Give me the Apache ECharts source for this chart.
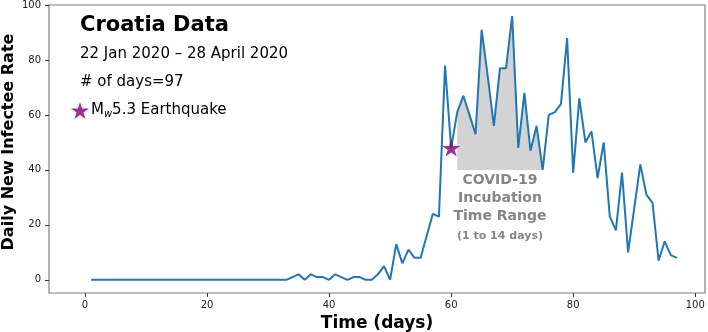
<!DOCTYPE html>
<html>
<head>
<meta charset="utf-8">
<script src="https://cdn.jsdelivr.net/npm/echarts@6/dist/echarts.min.js"></script>
<style>
html,body{margin:0;padding:0;background:#fff;}
#chart{width:708px;height:332px;}
</style>
</head>
<body>
<div id="chart"></div>
<script>
// Daily new infectee values for days 1..97
const values = [
  0,0,0,0,0,0,0,0,0,0,
  0,0,0,0,0,0,0,0,0,0,
  0,0,0,0,0,0,0,0,0,0,
  0,0,0,1,2,0,2,1,1,0,
  2,1,0,1,1,0,0,2,5,0,
  13,6,11,8,8,16,24,23,78,48,
  61,67,60,53,91,74,56,77,77,96,
  48,68,47,56,40,60,61,64,88,39,
  66,50,54,37,50,23,18,39,10,26,
  42,31,28,7,14,9,8
];
const firstDay = 1;
const incubationStart = 61;
const incubationEnd = 75;
const incubationBase = 40;
const quakeDay = 60;
const quakeValue = 48;
const xTicks = [0, 20, 40, 60, 80, 100];
const yTicks = [0, 20, 40, 60, 80, 100];
const titleText = 'Croatia Data';
const dateText = '22 Jan 2020 \u2013 28 April 2020';
const daysText = '# of days=97';
const yAxisTitle = 'Daily New Infectee Rate';
const xAxisTitle = 'Time (days)';
const incubationLines = ['COVID-19', 'Incubation', 'Time Range', '(1 to 14 days)'];

const lineData = values.map((v, i) => [firstDay + i, v]);
const fillData = lineData.filter(p => p[0] >= incubationStart && p[0] <= incubationEnd);

const FONT = 'DejaVu Sans';
const starPath = 'path://M0,-1L0.2245,-0.309L0.951,-0.309L0.363,0.118L0.588,0.809L0,0.382L-0.588,0.809L-0.363,0.118L-0.951,-0.309L-0.2245,-0.309Z';

const chart = echarts.init(document.getElementById('chart'), null, {renderer: 'canvas'});
chart.setOption({
  animation: false,
  backgroundColor: '#fff',
  textStyle: {fontFamily: FONT},
  grid: {left: 49, right: 3, top: 5, bottom: 39, show: true, borderColor: '#808080', borderWidth: 1.2,
         backgroundColor: 'transparent', containLabel: false, outerBoundsMode: 'none'},
  xAxis: {
    type: 'value', min: -5.9, max: 101.6,
    axisLine: {show: false, onZero: false},
    splitLine: {show: false},
    axisTick: {show: true, length: 4, lineStyle: {color: '#333'}, customValues: xTicks},
    axisLabel: {fontSize: 10, color: '#222', margin: 7, fontFamily: FONT, customValues: xTicks},
    name: xAxisTitle, nameLocation: 'middle', nameGap: 22,
    nameTextStyle: {fontSize: 17, fontWeight: 'bold', color: '#000', fontFamily: FONT}
  },
  yAxis: {
    type: 'value', min: -4.8, max: 100,
    axisLine: {show: false, onZero: false},
    splitLine: {show: false},
    axisTick: {show: true, length: 4, lineStyle: {color: '#333'}, customValues: yTicks},
    axisLabel: {fontSize: 10, color: '#222', margin: 8, fontFamily: FONT, customValues: yTicks}
  },
  legend: {
    left: 66, top: 97,
    itemWidth: 18, itemHeight: 18, itemGap: 4,
    data: [{name: 'quake', icon: starPath, itemStyle: {color: '#800080'}}],
    formatter: () => '{n|M}{s|w}{n|5.3 Earthquake}',
    textStyle: {
      fontFamily: FONT, fontSize: 15, color: '#000', padding: [0, 0, 0, -3],
      rich: {
        n: {fontSize: 15, fontFamily: FONT, color: '#000'},
        s: {fontSize: 10, fontFamily: FONT, fontStyle: 'italic', color: '#000', padding: [7, 0, 0, 0]}
      }
    }
  },
  graphic: [
    {type: 'text', left: 80, top: 15, style: {text: titleText, font: 'bold 21px "DejaVu Sans"', fill: '#000'}},
    {type: 'text', left: 80, top: 47, style: {text: dateText, font: '15px "DejaVu Sans"', fill: '#000'}},
    {type: 'text', left: 80, top: 75, style: {text: daysText, font: '15px "DejaVu Sans"', fill: '#000'}},
    {type: 'text', x: 9, y: 142, rotation: Math.PI / 2,
     style: {text: yAxisTitle, font: 'bold 16px "DejaVu Sans"', fill: '#000', align: 'center', verticalAlign: 'middle'}}
  ],
  series: [
    {
      type: 'line', name: 'incubation', data: fillData, symbol: 'none', z: 1,
      lineStyle: {width: 0, opacity: 0},
      areaStyle: {color: '#d3d3d3', opacity: 1, origin: incubationBase},
      silent: true
    },
    {
      type: 'line', name: 'rate', data: lineData, symbol: 'none', z: 3,
      lineStyle: {color: '#1f77b4', width: 2},
      silent: true
    },
    {
      type: 'scatter', name: 'quake', data: [[quakeDay, quakeValue]], z: 5,
      symbol: starPath, symbolSize: 18, symbolKeepAspect: true,
      itemStyle: {color: '#800080'}
    },
    {
      type: 'scatter', name: 'label', data: [[68, 26]], symbolSize: 0, z: 4, silent: true,
      label: {
        show: true, position: 'inside',
        formatter: () => incubationLines.slice(0, 3).map(s => '{a|' + s + '}').join('\n') + '\n{b|' + incubationLines[3] + '}',
        rich: {
          a: {fontSize: 14, fontWeight: 'bold', color: '#666666', fontFamily: FONT, lineHeight: 18.4, align: 'center'},
          b: {fontSize: 11, fontWeight: 'bold', color: '#666666', fontFamily: FONT, lineHeight: 20, align: 'center'}
        }
      }
    }
  ]
});
</script>
</body>
</html>
